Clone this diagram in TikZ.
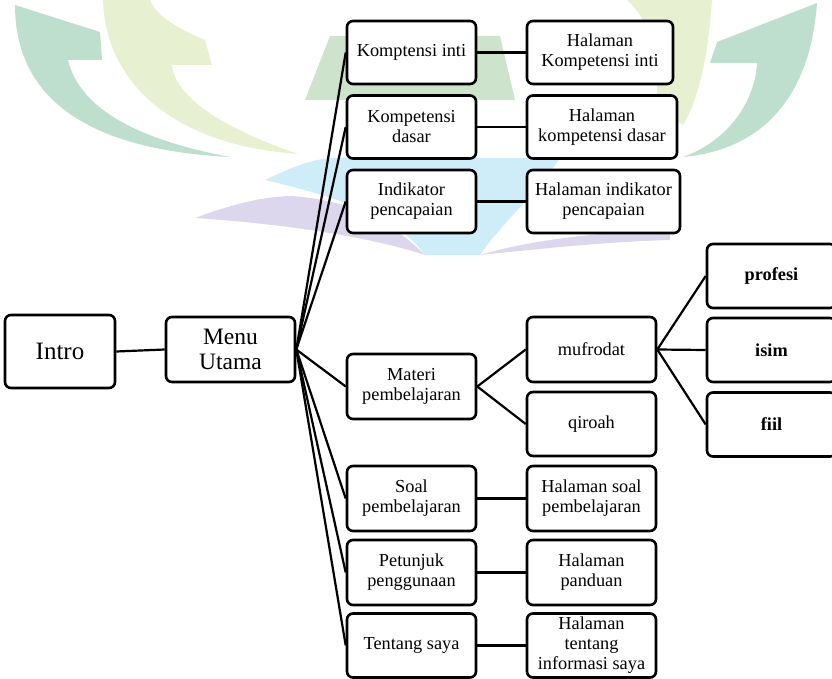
\documentclass[tikz,border=0pt]{standalone}
\usepackage{fontspec}
\setmainfont{Liberation Serif}
\definecolor{wmteal}{RGB}{190,223,206}
\definecolor{wmyel}{RGB}{231,241,210}
\definecolor{wmgreen}{RGB}{206,227,203}
\definecolor{wmblue}{RGB}{206,237,249}
\definecolor{wmpurple}{RGB}{221,215,238}
\tikzset{
  box/.style={draw, line width=2.6pt, rounded corners=6pt, fill=white,
    minimum width=129pt, minimum height=63pt, inner sep=0pt, align=center,
    font=\fontsize{18.3}{20}\selectfont},
  bigbox/.style={box, font=\fontsize{25}{26}\selectfont},
  boldbox/.style={box, minimum height=64pt, font=\fontsize{18.3}{20}\selectfont\bfseries},
  conn/.style={line width=2.2pt, black}
}
\begin{document}
\begin{tikzpicture}[x=1pt,y=-1pt]
\useasboundingbox (0,0) rectangle (832,679);
% watermark
\fill[wmteal] (15,5) .. controls (15,100) and (90,150) .. (230,157)
  .. controls (140,140) and (80,110) .. (68,60) -- (102,60) -- (100,32) -- cycle;
\fill[wmyel] (103,0) .. controls (105,80) and (170,145) .. (298,154)
  .. controls (215,125) and (175,95) .. (172,65) -- (212,65) -- (205,40)
  .. controls (180,30) and (155,15) .. (150,0) -- cycle;
\fill[wmteal] (817,3) .. controls (810,100) and (760,150) .. (683,157)
  .. controls (730,140) and (755,100) .. (757,63) -- (710,63) -- (717,42) -- cycle;
\fill[wmyel] (627,0) -- (712,0) .. controls (708,60) and (698,100) .. (683,125)
  -- (656,110) .. controls (660,60) and (650,20) .. (627,0) -- cycle;
\fill[wmgreen] (305,100) -- (330,36) -- (500,36) -- (515,100) -- cycle;
\fill[wmblue] (265,180) .. controls (290,168) and (310,160) .. (330,158) -- (560,158)
  .. controls (540,190) and (500,225) .. (480,255) -- (425,255)
  .. controls (400,220) and (350,200) .. (265,180) -- cycle;
\fill[wmpurple] (195,218) .. controls (230,205) and (260,197) .. (290,196)
  .. controls (360,200) and (400,230) .. (425,255)
  .. controls (380,240) and (300,225) .. (195,218) -- cycle;
\fill[wmpurple] (480,255) .. controls (530,240) and (600,232) .. (670,230)
  -- (670,240) .. controls (600,242) and (530,250) .. (480,255) -- cycle;
% nodes
\node[bigbox, minimum width=110pt, minimum height=73pt] (intro) at (60,351.5) {Intro};
\node[bigbox, font=\fontsize{23.5}{25}\selectfont, minimum height=65pt] (menu) at (230.5,349.5) {Menu\\Utama};
\node[box] (ki) at (411.5,52.5) {Komptensi inti};
\node[box] (kd) at (411.5,127) {Kompetensi\\dasar};
\node[box] (ip) at (411.5,201.5) {Indikator\\pencapaian};
\node[box, minimum height=65pt] (mp) at (411.5,386.5) {Materi\\pembelajaran};
\node[box, minimum height=65pt] (sp) at (411.5,498.5) {Soal\\pembelajaran};
\node[box, minimum height=65pt] (pp) at (411.5,572.5) {Petunjuk\\penggunaan};
\node[box, minimum height=64pt] (ts) at (411.5,645.5) {Tentang saya};
\node[box, minimum width=146pt] (hki) at (600,52.5) {Halaman\\Kompetensi inti};
\node[box, minimum width=150pt] (hkd) at (602,127) {Halaman\\kompetensi dasar};
\node[box, minimum width=153pt] (hip) at (603.5,201.5) {Halaman indikator\\pencapaian};
\node[box, minimum height=65pt] (muf) at (591.5,349.5) {mufrodat};
\node[box, minimum height=64pt] (qir) at (591.5,424) {qiroah};
\node[box, minimum height=65pt] (hsp) at (591.5,498.5) {Halaman soal\\pembelajaran};
\node[box, minimum height=65pt] (hpp) at (591.5,572.5) {Halaman\\panduan};
\node[box, minimum height=64pt] (hts) at (591.5,645.5) {Halaman\\tentang\\informasi saya};
\node[boldbox] (prof) at (771.5,276) {profesi};
\node[boldbox] (isim) at (771.5,350) {isim};
\node[boldbox] (fiil) at (771.5,424.5) {fiil};
% connectors
\draw[conn] (intro.east) -- (menu.west);
\foreach \n in {ki,kd,ip,mp,sp,pp,ts} \draw[conn] (menu.east) -- (\n.west);
\draw[conn] (ki.east) -- (hki.west);
\draw[conn] (kd.east) -- (hkd.west);
\draw[conn] (ip.east) -- (hip.west);
\draw[conn] (sp.east) -- (hsp.west);
\draw[conn] (pp.east) -- (hpp.west);
\draw[conn] (ts.east) -- (hts.west);
\draw[conn] (mp.east) -- (muf.west);
\draw[conn] (mp.east) -- (qir.west);
\draw[conn] (muf.east) -- (prof.west);
\draw[conn] (muf.east) -- (isim.west);
\draw[conn] (muf.east) -- (fiil.west);
\end{tikzpicture}
\end{document}
